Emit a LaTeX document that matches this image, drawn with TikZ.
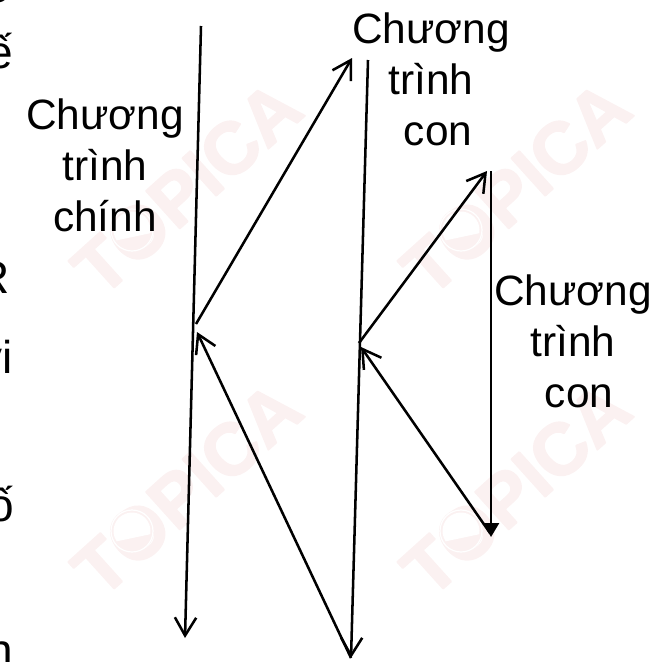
\documentclass[tikz,border=0pt]{standalone}
\usepackage{fontspec}
\setmainfont{Liberation Sans}
\newfontfamily\markfont[FakeBold=2.5]{Liberation Sans Bold}
\usetikzlibrary{arrows.meta}
\definecolor{markpink}{RGB}{251,241,241}
\tikzset{
  flow/.style={line width=1.9pt, -{Straight Barb[length=13.5pt,width=16pt,line width=1.9pt]}},
  solidflow/.style={line width=1.9pt, -{Triangle[length=10.5pt,width=12pt]}},
  caption/.style={font=\fontsize{31.8}{38.3}\selectfont, align=center, inner sep=0pt},
  cutoff/.style={font=\fontsize{34.5}{40}\selectfont, anchor=base east, inner sep=0pt},
  watermark/.style={font=\markfont\fontsize{55}{60}\selectfont, text=markpink, rotate=42, inner sep=0pt},
  markring/.pic={
    \fill[markpink] (0,0) circle (22);
    \draw[white, line width=0.9pt] (0,0) circle (21);
    \fill[white] (146:18.5) arc (146:370:18.5) -- cycle;
  }
}
\begin{document}
\begin{tikzpicture}[x=0.75pt, y=-0.75pt, line join=round]
\useasboundingbox (0,0) rectangle (666,661);
\clip (0,0) rectangle (666,661);
% background marks
\node[watermark] (markA) at (187,188) {TOPICA};
\node[watermark] (markB) at (516,188) {TOPICA};
\node[watermark] (markC) at (187,489) {TOPICA};
\node[watermark] (markD) at (516,489) {TOPICA};
\pic at (132,230) {markring};
\pic at (461,230) {markring};
\pic at (132,531) {markring};
\pic at (461,531) {markring};
% letters cut by the left edge
\node[cutoff] (cutA) at (10,2) {e};
\node[cutoff] (cutB) at (13,68) {ế};
\node[cutoff] (cutC) at (10,293) {R};
\node[cutoff] (cutD) at (13,373) {vi};
\node[cutoff] (cutE) at (14,521) {ố};
\node[cutoff] (cutF) at (13,666) {n};
% end points
\coordinate (mainTop) at (201,26);
\coordinate (mainEnd) at (185,638);
\coordinate (mainCall) at (196,324);
\coordinate (mainBack) at (197,332);
\coordinate (subTop) at (352,58);
\coordinate (subStart) at (368,60);
\coordinate (subEnd) at (351,658);
\coordinate (subCall) at (359,343);
\coordinate (subBack) at (361,347);
\coordinate (innerTip) at (487,171);
\coordinate (innerStart) at (491,171);
\coordinate (innerEnd) at (491,537);
\coordinate (innerRet) at (490,533);
% main program
\draw[flow] (mainTop) -- (mainEnd);
\draw[flow] (mainCall) -- (subTop);
\draw[flow] (subEnd) -- (mainBack);
% first subroutine
\draw[flow] (subStart) -- (subEnd);
\draw[flow] (subCall) -- (innerTip);
\draw[flow] (innerRet) -- (subBack);
% second subroutine
\draw[solidflow] (innerStart) -- (innerEnd);
% labels
\node[caption] (labelMain) at (105,165) {Chương\\trình\\chính};
\node[caption] (labelSub) at (431,79.5) {Chương\\trình\\\hspace*{10.5pt}con};
\node[caption] (labelInner) at (573,341) {Chương\\trình\\\hspace*{9pt}con};
\end{tikzpicture}
\end{document}
